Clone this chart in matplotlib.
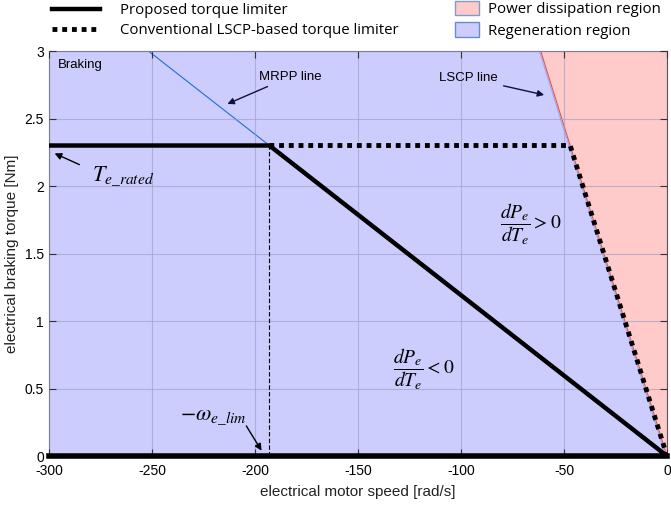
import numpy as np
import matplotlib.pyplot as plt
from matplotlib.patches import Patch
from matplotlib.lines import Line2D

plt.rcParams['font.family'] = ['Liberation Sans', 'DejaVu Sans']
plt.rcParams['axes.unicode_minus'] = False
plt.rcParams['mathtext.fontset'] = 'stix'

# data
w_max = -300.0
w_lim = -193.0          # speed where the proposed limiter leaves rated torque
w_lscp = -47.0          # knee of the LSCP-based limiter
T_rated = 2.3
T_top = 3.0

proposed_w = [w_max, w_lim, 0.0]
proposed_T = [T_rated, T_rated, 0.0]
lscp_w = [w_lim, w_lscp, 0.0]
lscp_T = [T_rated, T_rated, 0.0]

# LSCP and MRPP lines pass through the origin
lscp_slope = T_rated / w_lscp
mrpp_slope = T_rated / w_lim

fig = plt.figure(figsize=(6.71, 5.05), dpi=100)
ax = fig.add_axes([0.073, 0.097, 0.921, 0.802])

ax.set_xlim(-300, 0)
ax.set_ylim(0, 3)

# regions
T_fill = np.array([0.0, T_top])
w_edge = T_fill / lscp_slope
ax.fill_betweenx(T_fill, w_max, w_edge, color='#ccccfd', zorder=0, lw=0)
ax.fill_betweenx(T_fill, w_edge, 0, color='#fecaca', zorder=0, lw=0)
ax.plot(w_edge, T_fill, color='#e8553a', lw=0.8, zorder=1)
ax.plot(w_edge - 0.6, T_fill, color='#a3a3f0', lw=0.8, zorder=1)

# MRPP line
w_mrpp = np.array([T_top / mrpp_slope, 0.0])
ax.plot(w_mrpp, w_mrpp * mrpp_slope, color='#1f6fd6', lw=0.8, zorder=2)

ax.grid(True, color='#9a9ac8', lw=0.8, alpha=0.6)
ax.set_axisbelow(False)
ax.set_xticks(np.arange(-300, 1, 50))
ax.set_yticks(np.arange(0, 3.01, 0.5))
ax.set_xticklabels(['-300', '-250', '-200', '-150', '-100', '-50', '0'])
ax.set_yticklabels(['0', '0.5', '1', '1.5', '2', '2.5', '3'])
ax.tick_params(direction='in', top=True, right=True, labelsize=10, length=5,
               color='#333333')
ax.tick_params(axis='x', pad=6)
for s in ax.spines.values():
    s.set_color('#555555')
    s.set_linewidth(0.8)

ax.plot([w_lim, w_lim], [0, T_rated], 'k--', lw=0.8, dashes=(4, 2), zorder=3)
ax.plot(lscp_w, lscp_T, color='black', lw=3.5, ls=(0, (1, 1)), zorder=4)
ax.plot(proposed_w, proposed_T, color='black', lw=3.2, zorder=5,
        solid_capstyle='butt')
ax.plot([w_max, 0], [0, 0], color='black', lw=4, zorder=5, clip_on=False)

ax.set_xlabel('electrical motor speed [rad/s]', fontsize=11, color='#222222',
              labelpad=5)
ax.set_ylabel('electrical braking torque [Nm]', fontsize=11, color='#222222')

# annotations
ax.text(-295.6, 2.9, 'Braking', fontsize=9.5, va='center', zorder=6)
ax.annotate('MRPP line', xy=(-214.6, 2.6), xytext=(-198, 2.81),
            fontsize=9.5, va='center', zorder=6,
            arrowprops=dict(arrowstyle='-|>', color='#101040', lw=1))
ax.annotate('LSCP line', xy=(-58.3, 2.67), xytext=(-110.5, 2.8),
            fontsize=9.5, va='center', zorder=6,
            arrowprops=dict(arrowstyle='-|>', color='#101040', lw=1))
ax.annotate('', xy=(-298.5, 2.25), xytext=(-284, 2.15), zorder=6,
            arrowprops=dict(arrowstyle='-|>', color='black', lw=1))
ax.text(-279, 2.08, r'$T_{e\_rated}$', fontsize=16, va='center', zorder=6)
ax.annotate('', xy=(-196.1, 0.022), xytext=(-204.9, 0.24), zorder=6,
            arrowprops=dict(arrowstyle='-|>', color='black', lw=1))
ax.text(-236.4, 0.30, r'$-\omega_{e\_lim}$', fontsize=16, va='center',
        zorder=6)
ax.text(-81, 1.72, r'$\dfrac{dP_e}{dT_e} > 0$', fontsize=14, va='center',
        zorder=6)
ax.text(-133, 0.646, r'$\dfrac{dP_e}{dT_e} < 0$', fontsize=14, va='center',
        zorder=6)

# legends above the axes
h1 = [Line2D([], [], color='black', lw=3.2),
      Line2D([], [], color='black', lw=3.5, ls=(0, (1, 1)))]
fig.legend(h1, ['Proposed torque limiter',
                'Conventional LSCP-based torque limiter'],
           loc='upper left', bbox_to_anchor=(52 / 671, 1 - 3 / 505),
           frameon=False, borderpad=0, borderaxespad=0,
           handlelength=3.2, handletextpad=1.3, labelspacing=0.33,
           prop={'family': 'Open Sans', 'size': 10.8})
h2 = [Patch(facecolor='#fecaca', edgecolor='#7f9cc8'),
      Patch(facecolor='#ccccfd', edgecolor='#6a8cc8')]
fig.legend(h2, ['Power dissipation region', 'Regeneration region'],
           loc='upper left', bbox_to_anchor=(455 / 671, 1 - 1 / 505),
           frameon=False, borderpad=0, borderaxespad=0,
           handlelength=1.6, handleheight=1.1, handletextpad=0.6,
           labelspacing=0.33,
           prop={'family': 'Open Sans', 'size': 10.8})

fig.savefig('out.png', dpi=100)
